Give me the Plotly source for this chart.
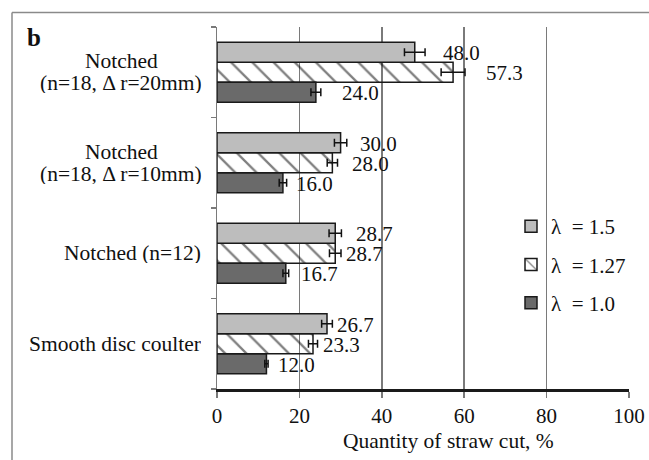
import plotly.graph_objects as go

# ---- data ----
categories = [
    "Smooth disc coulter",
    "Notched (n=12)",
    "Notched\n(n=18, Δ r=10mm)",
    "Notched\n(n=18, Δ r=20mm)",
]
series_names = ["λ\u00a0 = 1.0", "λ\u00a0 = 1.27", "λ\u00a0 = 1.5"]
vals_10 = [12.0, 16.7, 16.0, 24.0]
err_10 = [0.4, 0.7, 0.9, 1.2]
vals_127 = [23.3, 28.7, 28.0, 57.3]
err_127 = [1.1, 1.4, 1.25, 2.9]
vals_15 = [26.7, 28.7, 30.0, 48.0]
err_15 = [1.3, 1.5, 1.5, 2.5]
x_ticks = [0, 20, 40, 60, 80, 100]
x_title = "Quantity of straw cut, %"
panel_letter = "b"

# ---- styles ----
FONT = "Liberation Serif"
FS = 21
TXT = "#111111"
label_gap_px = {  # extra pixel gap of value labels after error-bar end
    0: [9, 11, 8, 20],
    1: [4, 4, 13, 20],
    2: [4, 14, 12, 17],
}
bar_yshift = {0: -20, 1: 0, 2: 20}
legend_rank = {0: 3, 1: 2, 2: 1}

ycats = [c.replace("\n", "<br>") for c in categories]
vals = [vals_10, vals_127, vals_15]
errs = [err_10, err_127, err_15]

W, H = 649, 460
PL, PR, PT, PB = 217, 629, 27, 389  # plot box in page pixels
L, T = PL, PT
R, B = W - PR, H - PB
pw, ph = PR - PL, PB - PT


def px2x(px):
    return (px - PL) / pw


def py2y(py):
    return (PB - py) / ph


fig = go.Figure()
styles = [
    dict(color="#6a6a6a"),
    dict(color="rgba(0,0,0,0)",
         pattern=dict(shape="\\", fgcolor="#000000", bgcolor="rgba(0,0,0,0)",
                      size=15, solidity=0.15)),
    dict(color="#bdbdbd"),
]
for i in range(3):
    m = dict(styles[i])
    m["line"] = dict(color="#1a1a1a", width=1.5)
    fig.add_trace(go.Bar(
        y=ycats, x=vals[i], orientation="h", name=series_names[i],
        marker=m, legendrank=legend_rank[i], legendgroup=str(i),
        error_x=dict(type="data", array=errs[i], color="#111111",
                     thickness=1.5, width=4),
    ))

annotations = []
for i in range(3):
    for j, c in enumerate(ycats):
        annotations.append(dict(
            x=vals[i][j] + errs[i][j], y=c, xref="x", yref="y",
            text=f"{vals[i][j]:.1f}", showarrow=False, xanchor="left",
            yanchor="middle", xshift=label_gap_px[i][j],
            yshift=bar_yshift[i] - 1, height=18, borderpad=0,
            font=dict(family=FONT, size=FS, color=TXT),
        ))

# category labels
for j, cat in enumerate(categories):
    lines = cat.split("\n")
    n = len(lines)
    for k, ln in enumerate(lines):
        ys = ((n - 1) / 2 - k) * 22
        common = dict(x=0, xref="paper", y=ycats[j], yref="y", text=ln,
                      showarrow=False, yanchor="middle", yshift=ys,
                      height=20, borderpad=0,
                      font=dict(family=FONT, size=21.5, color=TXT))
        if n > 1:
            annotations.append(dict(common, xanchor="center", xshift=-96))
        else:
            annotations.append(dict(common, xanchor="right", xshift=-15))

annotations.append(dict(
    x=px2x(448), y=py2y(441), xref="paper", yref="paper", text=x_title,
    showarrow=False, xanchor="center", yanchor="middle",
    font=dict(family=FONT, size=21.5, color=TXT)))
annotations.append(dict(
    x=px2x(34), y=py2y(38), xref="paper", yref="paper",
    text=f"<b>{panel_letter}</b>", showarrow=False,
    xanchor="center", yanchor="middle",
    font=dict(family=FONT, size=25, color=TXT)))

shapes = [
    dict(type="line", xref="paper", yref="paper",
         x0=px2x(12), x1=px2x(660), y0=py2y(12.5), y1=py2y(12.5),
         line=dict(color="#8a8a8a", width=1.5)),
    dict(type="line", xref="paper", yref="paper",
         x0=px2x(12), x1=px2x(12), y0=py2y(12.5), y1=py2y(470),
         line=dict(color="#8a8a8a", width=1.5)),
]

fig.update_layout(
    width=W, height=H,
    margin=dict(l=L, r=R, t=T, b=B, pad=0, autoexpand=False),
    paper_bgcolor="white", plot_bgcolor="white",
    barmode="group", bargap=0.337, bargroupgap=0,
    font=dict(family=FONT, size=FS, color=TXT),
    showlegend=True,
    legend=dict(
        tracegroupgap=8,
        x=px2x(511), xanchor="left", y=py2y(206), yanchor="top",
        bgcolor="rgba(0,0,0,0)", borderwidth=0,
        font=dict(family=FONT, size=FS, color=TXT),
        itemwidth=30,
    ),
    annotations=annotations,
    shapes=shapes,
    xaxis=dict(
        range=[0, 100], tickvals=x_ticks, ticktext=[str(t) for t in x_ticks],
        showgrid=True, gridcolor="#7a7a7a", gridwidth=1.5,
        showline=True, linecolor="#1a1a1a", linewidth=2.5,
        ticks="outside", ticklen=6, tickcolor="#7a7a7a", tickwidth=1.5,
        tickfont=dict(family=FONT, size=FS, color=TXT),
        ticklabeloverflow="allow",
        zeroline=False, fixedrange=True,
    ),
    yaxis=dict(
        type="category", categoryorder="array", categoryarray=ycats,
        range=[-0.5, 3.5], showticklabels=False,
        showline=True, linecolor="#7a7a7a", linewidth=1.5,
        ticks="outside", tickson="boundaries", ticklen=5,
        tickcolor="#7a7a7a", tickwidth=1.5,
        showgrid=False, zeroline=False, fixedrange=True,
    ),
)

page_css = (
    "document.documentElement.style.overflow='hidden';"
    "document.body.style.margin='0';"
    "document.body.style.overflow='hidden';"
)
fig.write_html("out.html", post_script=page_css,
               config={"displayModeBar": False, "staticPlot": True})
